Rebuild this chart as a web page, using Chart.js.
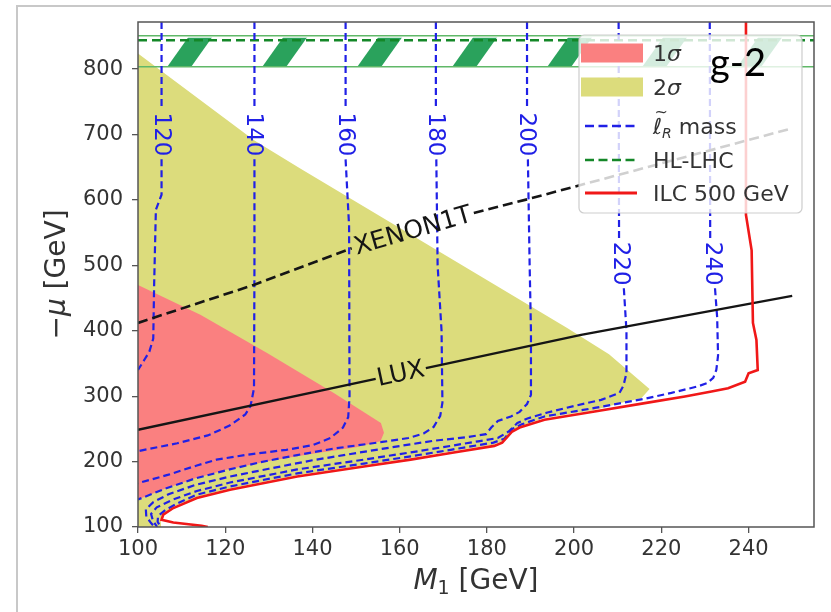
<!DOCTYPE html>
<html>
<head>
<meta charset="utf-8">
<title>g-2 : M1 vs -mu</title>
<script src="https://cdn.jsdelivr.net/npm/chart.js@4.4.1/dist/chart.umd.min.js"></script>
<style>
    html, body { margin: 0; padding: 0; background: #fff; }
    #wrap { position: relative; width: 831px; height: 612px; }
    #outer { position: absolute; left: 16px; top: 5px; right: 0; bottom: 0;
             border-top: 2px solid #c8c8c8; border-left: 2px solid #c8c8c8; pointer-events: none; }
</style>
</head>
<body>
<div id="wrap">
    <canvas id="chart" width="831" height="612"></canvas>
    <div id="outer"></div>
</div>
<script>
// Axes
const xRange = [100, 255];
const yRange = [100, 872];
const xTicks = [100, 120, 140, 160, 180, 200, 220, 240];
const yTicks = [100, 200, 300, 400, 500, 600, 700, 800];

// g-2 regions, points are [M1, -mu] in GeV
const sigma2Region = [[100, 824], [126.7, 691], [137.2, 648],
    [198.5, 404], [208, 364], [217.3, 311], [215.4, 297], [212, 292], [204.7, 279], [193.2, 266.5],
    [187.7, 254], [185.8, 248], [183.8, 232], [181.7, 226], [171.7, 215.5], [162.5, 205.5],
    [151.8, 194.5], [136.5, 179], [121.1, 159], [113.5, 146], [108.1, 131], [105.7, 120],
    [105.2, 111], [105.3, 100], [100, 100]];
const sigma1Region = [[100, 470], [114.3, 424.5], [129.6, 366], [144.9, 305], [155.7, 259],
    [156.4, 244], [155.6, 231], [150, 222], [140, 212], [130, 201], [120, 187], [113, 174],
    [106, 158], [100, 142]];

// ILC 500 GeV reach
const ilcReach = [[239.4, 872], [239.4, 577], [240.7, 523], [241, 412], [241.8, 386], [242.1, 340],
    [240, 335], [239.2, 322], [235.3, 312], [231.5, 307], [225.4, 299.5], [216.2, 289.4],
    [204.7, 276.6], [193.2, 264], [187.5, 252], [185.8, 246], [183.5, 229], [181.7, 224],
    [171.7, 213], [162.5, 203], [151.8, 192.6], [136.5, 177.3], [121.1, 157], [113.5, 144.3],
    [108.1, 129], [105.8, 118.8], [105.4, 111], [108.1, 107], [114.6, 102], [116, 100]];

// HL-LHC band (-mu values)
const hlLhcUpper = 851;
const hlLhcReach = 844;
const hlLhcHatchTop = 848;
const hlLhcLower = 803.5;

// slepton (right-handed) mass contours, null = gap where the label sits
const contourLevels = [120, 140, 160, 180, 200, 220, 240];
const contour120 = [[105.4, 872], [105.4, 738], null, [105.4, 662], [105.4, 608], [104.1, 585],
    [103.7, 470], [103.5, 388], [102.6, 368], [101.5, 356], [100, 340]];
const contour140 = [[126.7, 872], [126.7, 738], null, [126.7, 662], [126.7, 500], [126.6, 312],
    [125.8, 285], [124.6, 272], [121, 255], [116, 240], [109, 228], [100, 216]];
const contour160 = [[147.6, 872], [147.6, 738], null, [147.6, 662], [148.4, 560], [148.5, 300],
    [148.2, 268], [147, 252], [144.1, 236], [140, 225], [134, 218], [125, 210.5], [118, 203],
    [113.5, 194], [107, 180], [100, 167]];
const contour180 = [[168.3, 872], [168.3, 738], null, [168.4, 662], [168.7, 500], [169.6, 400],
    [169.8, 290], [169.3, 270], [167.8, 253], [165.5, 243], [162, 236], [156, 230], [145, 220],
    [136.5, 210], [128, 199], [121, 188], [113, 174], [106, 158], [100, 142]];
const contour200 = [[189.2, 872], [189.2, 738], null, [189.4, 662], [189.8, 500], [190.1, 400],
    [190.1, 302], [189.2, 288], [187.5, 276], [185.5, 269], [182.5, 262], [181, 252], [179.8, 242],
    [175, 237], [168, 232], [160.2, 224], [150, 213], [140, 202], [130, 189], [121, 177],
    [113, 164], [107, 150], [103.5, 138], [101.8, 127], [101.9, 116], [103, 106], [103.8, 100]];
const contour220 = [[210.2, 872], [210.3, 540], null, [211.4, 465], [212, 400], [212, 335],
    [211.3, 316], [210.4, 305], [206.2, 294.4], [200, 285], [193.9, 275], [189.3, 266], [187, 259],
    [185, 246], [182.5, 236], [178, 231], [171.7, 224], [162.5, 214], [151.8, 203], [136.5, 188],
    [121.1, 168], [113.5, 155], [108, 142], [104.3, 130], [103, 120], [103.4, 110], [104.4, 100]];
const contour240 = [[231.1, 872], [231.2, 540], null, [232.3, 465], [232.8, 420], [233, 362],
    [232.6, 340], [231.9, 328], [230.5, 320], [228.4, 315], [222.3, 305], [216.2, 296],
    [204.7, 282], [193.2, 269], [188, 257], [185.8, 250], [184, 235], [181.5, 229], [171.7, 218],
    [162.5, 208], [151.8, 197], [136.5, 182], [121.1, 162], [113.5, 149.5], [109, 136],
    [106.3, 126], [104.6, 117], [104.5, 108], [105.2, 100]];

// direct detection limits
const xenonLimit = [[100, 412], [126.5, 470], [149, 526], null, [177, 580], [189.3, 601], [250, 709.5]];
const luxLimit = [[100, 248.6], [154.5, 326.4], null, [166, 342.8], [201.6, 393.7], [250, 453.3]];

const legendLabels = ['1σ', '2σ', 'ℓ̃R mass', 'HL-LHC', 'ILC 500 GeV'];

// couleurs
const YELLOW = 'rgb(220, 220, 124)';
const PINK = 'rgb(250, 128, 128)';
const BLUE = '#2020e6';
const GREEN_LINE = 'rgb(96, 184, 104)';
const GREEN_DASH = 'rgb(20, 135, 40)';
const HATCH = 'rgb(42, 162, 92)';
const RED = '#f01818';
const AXIS = '#555';
const TEXT = '#333';
const FONT = '"DejaVu Sans", sans-serif';

function toPoints(pairs) {
    return pairs.map((p, i) => p === null ? {x: pairs[i - 1][0], y: null} : {x: p[0], y: p[1]});
}

// Hachures diagonales pour la bande HL-LHC
function createHatch() {
    const w = 95, h = 134, stripe = 24, phase = 24.6;
    const c = document.createElement('canvas');
    c.width = w; c.height = h;
    const g = c.getContext('2d');
    g.fillStyle = HATCH;
    for (let k = -1; k <= 2; k++) {
        const x0 = phase + k * w;
        g.beginPath();
        g.moveTo(x0, 0);
        g.lineTo(x0 + stripe, 0);
        g.lineTo(x0 + stripe - w, h);
        g.lineTo(x0 - w, h);
        g.closePath();
        g.fill();
    }
    return g.createPattern(c, 'repeat');
}

const NONE = 'rgba(0,0,0,0)';
const datasets = [
    {label: '2σ', data: toPoints(sigma2Region), fill: 'shape', backgroundColor: YELLOW,
        borderColor: NONE, borderWidth: 0, order: 9},
    {label: '1σ', data: toPoints(sigma1Region), fill: 'shape', backgroundColor: PINK,
        borderColor: NONE, borderWidth: 0, order: 8},
    {label: 'HL-LHC hatch', data: toPoints([[xRange[0], hlLhcHatchTop], [xRange[1], hlLhcHatchTop]]),
        fill: {value: hlLhcLower}, backgroundColor: createHatch(), borderColor: NONE, borderWidth: 0, order: 7},
    {label: 'HL-LHC upper', data: toPoints([[xRange[0], hlLhcUpper], [xRange[1], hlLhcUpper]]),
        borderColor: GREEN_LINE, borderWidth: 1.6, fill: false, order: 6},
    {label: 'HL-LHC lower', data: toPoints([[xRange[0], hlLhcLower], [xRange[1], hlLhcLower]]),
        borderColor: GREEN_LINE, borderWidth: 1.6, fill: false, order: 6},
    {label: 'HL-LHC', data: toPoints([[xRange[0], hlLhcReach], [xRange[1], hlLhcReach]]),
        borderColor: GREEN_DASH, borderWidth: 2.6, borderDash: [9, 5], fill: false, order: 5}
];

const contours = [contour120, contour140, contour160, contour180, contour200, contour220, contour240];
contours.forEach((c, i) => {
    datasets.push({label: 'slepton ' + contourLevels[i], data: toPoints(c), borderColor: BLUE,
        borderWidth: 2.2, borderDash: [7, 4], fill: false, order: 4, contourLevel: contourLevels[i]});
});

datasets.push({label: 'XENON1T', data: toPoints(xenonLimit), borderColor: '#151515', borderWidth: 2.6,
    borderDash: [10, 5], fill: false, order: 3, lineLabel: 'XENON1T'});
datasets.push({label: 'LUX', data: toPoints(luxLimit), borderColor: '#151515', borderWidth: 2.4,
    fill: false, order: 2, lineLabel: 'LUX'});
datasets.push({label: 'ILC 500 GeV', data: toPoints(ilcReach), borderColor: RED, borderWidth: 2.6,
    fill: false, order: 1});

// centre et angle du trou laissé pour l'étiquette
function gapLabel(chart, ds) {
    const {x, y} = chart.scales;
    const idx = ds.data.findIndex(p => p.y === null);
    const a = ds.data[idx - 1], b = ds.data[idx + 1];
    const ax = x.getPixelForValue(a.x), ay = y.getPixelForValue(a.y);
    const bx = x.getPixelForValue(b.x), by = y.getPixelForValue(b.y);
    let ang = Math.atan2(by - ay, bx - ax);
    if (ang > Math.PI / 2) ang -= Math.PI;
    if (ang < -Math.PI / 2) ang += Math.PI;
    return {cx: (ax + bx) / 2, cy: (ay + by) / 2, ang: ang};
}

function drawParts(ctx, parts, cx, cy, rot, color) {
    ctx.save();
    ctx.translate(cx, cy);
    ctx.rotate(rot);
    ctx.fillStyle = color;
    ctx.textAlign = 'left';
    ctx.textBaseline = 'alphabetic';
    let total = 0;
    parts.forEach(p => { ctx.font = p.font; p.w = ctx.measureText(p.text).width; total += p.w; });
    let px = -total / 2;
    parts.forEach(p => { ctx.font = p.font; ctx.fillText(p.text, px, p.dy || 0); px += p.w; });
    ctx.restore();
}

const annotations = {
    id: 'annotations',
    afterDatasetsDraw(chart) {
        const ctx = chart.ctx;

        // étiquettes des contours et des limites
        chart.data.datasets.forEach(ds => {
            if (ds.contourLevel) {
                const g = gapLabel(chart, ds);
                ctx.save();
                ctx.translate(g.cx, g.cy);
                ctx.rotate(Math.PI / 2);
                ctx.font = '23px ' + FONT;
                ctx.fillStyle = BLUE;
                ctx.textAlign = 'center';
                ctx.textBaseline = 'middle';
                ctx.fillText(String(ds.contourLevel), 0, 1);
                ctx.restore();
            }
            if (ds.lineLabel) {
                const g = gapLabel(chart, ds);
                ctx.save();
                ctx.translate(g.cx, g.cy);
                ctx.rotate(g.ang);
                ctx.font = '25px ' + FONT;
                ctx.fillStyle = '#151515';
                ctx.textAlign = 'center';
                ctx.textBaseline = 'middle';
                ctx.fillText(ds.lineLabel, 0, 1);
                ctx.restore();
            }
        });

        // légende
        const bx = 579, by = 35, bw = 223, bh = 178;
        ctx.save();
        ctx.beginPath();
        ctx.roundRect(bx, by, bw, bh, 5);
        ctx.fillStyle = 'rgba(255,255,255,0.8)';
        ctx.fill();
        ctx.strokeStyle = 'rgba(200,200,200,0.9)';
        ctx.lineWidth = 1.2;
        ctx.stroke();

        const rows = [53, 87, 126, 160, 193];
        const tx = 653;
        ctx.textBaseline = 'alphabetic';
        ctx.textAlign = 'left';
        ctx.fillStyle = PINK;
        ctx.fillRect(581, rows[0] - 9.5, 62, 19);
        ctx.fillStyle = YELLOW;
        ctx.fillRect(581, rows[1] - 9.5, 62, 19);
        const seg = (row, color, width, dash) => {
            ctx.beginPath();
            ctx.setLineDash(dash);
            ctx.strokeStyle = color;
            ctx.lineWidth = width;
            ctx.moveTo(585, row);
            ctx.lineTo(637, row);
            ctx.stroke();
            ctx.setLineDash([]);
        };
        seg(rows[2], BLUE, 2.4, [9, 4.5]);
        seg(rows[3], GREEN_DASH, 2.6, [9, 4.5]);
        seg(rows[4], RED, 2.8, []);

        const f = '22px ' + FONT, fi = 'italic 22px ' + FONT;
        const put = (parts, x, base) => {
            parts.forEach(p => {
                ctx.font = p.font;
                ctx.fillStyle = TEXT;
                ctx.fillText(p.text, x, base + (p.dy || 0));
                x += ctx.measureText(p.text).width;
            });
        };
        put([{text: '1', font: f}, {text: 'σ', font: fi}], tx, rows[0] + 8);
        put([{text: '2', font: f}, {text: 'σ', font: fi}], tx, rows[1] + 8);
        // ℓ̃R mass
        ctx.font = fi;
        const lw = ctx.measureText('ℓ').width;
        put([{text: 'ℓ', font: fi}], tx, rows[2] + 8);
        ctx.font = '16px ' + FONT;
        ctx.fillText('~', tx + lw / 2 - 3, rows[2] - 9);
        put([{text: 'R', font: 'italic 14px ' + FONT, dy: 4}], tx + lw, rows[2] + 8);
        ctx.font = 'italic 14px ' + FONT;
        const rw = ctx.measureText('R').width;
        put([{text: ' mass', font: f}], tx + lw + rw, rows[2] + 8);
        put([{text: legendLabels[3], font: f}], tx, rows[3] + 8);
        put([{text: legendLabels[4], font: f}], tx, rows[4] + 8);
        ctx.restore();

        // g-2
        ctx.save();
        ctx.font = '38px Lato, "Open Sans", sans-serif';
        ctx.fillStyle = '#000';
        ctx.textAlign = 'left';
        ctx.textBaseline = 'alphabetic';
        ctx.fillText('g-2', 710, 76);
        ctx.restore();
    },
    afterDraw(chart) {
        const ctx = chart.ctx;
        const a = chart.chartArea;
        ctx.save();
        ctx.strokeStyle = AXIS;
        ctx.lineWidth = 1.5;
        ctx.strokeRect(a.left, a.top, a.right - a.left, a.bottom - a.top);
        ctx.restore();

        const big = '28px ' + FONT, bigi = 'italic 28px ' + FONT;
        drawParts(ctx, [{text: 'M', font: bigi}, {text: '1', font: '19px ' + FONT, dy: 5},
            {text: ' [GeV]', font: big}], (a.left + a.right) / 2, 589, 0, TEXT);
        drawParts(ctx, [{text: '−', font: big}, {text: 'μ', font: bigi}, {text: ' [GeV]', font: big}],
            65, (a.top + a.bottom) / 2, -Math.PI / 2, TEXT);
    }
};

const tickFont = {family: FONT, size: 21};

new Chart(document.getElementById('chart'), {
    type: 'line',
    data: {datasets: datasets},
    options: {
        responsive: false,
        animation: false,
        events: [],
        layout: {padding: {top: 22, right: 17, left: 0, bottom: 0}},
        elements: {point: {radius: 0, hoverRadius: 0}, line: {tension: 0}},
        plugins: {legend: {display: false}, tooltip: {enabled: false}},
        scales: {
            x: {
                type: 'linear', min: xRange[0], max: xRange[1],
                afterBuildTicks: s => { s.ticks = xTicks.map(v => ({value: v})); },
                afterFit: s => { s.height = 85; },
                grid: {drawOnChartArea: false, drawTicks: true, tickLength: 6, color: AXIS, lineWidth: 1.3},
                border: {display: false},
                ticks: {font: tickFont, color: TEXT, padding: 4, maxRotation: 0, autoSkip: false}
            },
            y: {
                type: 'linear', min: yRange[0], max: yRange[1],
                afterBuildTicks: s => { s.ticks = yTicks.map(v => ({value: v})); },
                afterFit: s => { s.width = 138; },
                grid: {drawOnChartArea: false, drawTicks: true, tickLength: 6, color: AXIS, lineWidth: 1.3},
                border: {display: false},
                ticks: {font: tickFont, color: TEXT, padding: 9, autoSkip: false}
            }
        }
    },
    plugins: [annotations]
});
</script>
</body>
</html>
